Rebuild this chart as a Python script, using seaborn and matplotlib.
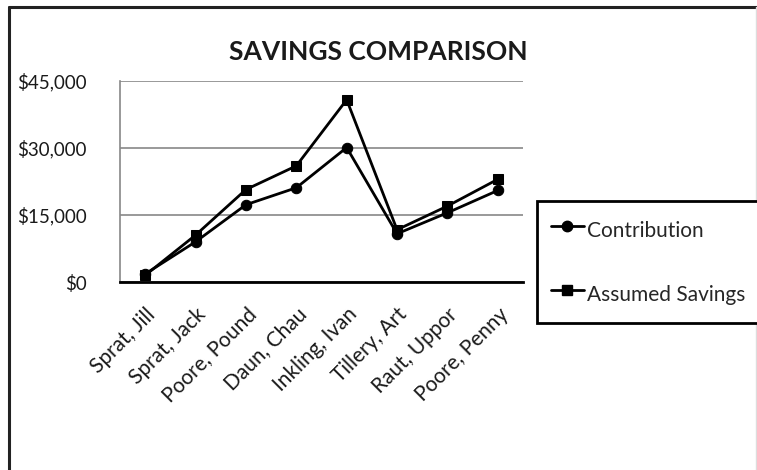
import numpy as np
import pandas as pd
import matplotlib
matplotlib.use("Agg")
import matplotlib.pyplot as plt
import seaborn as sns
from matplotlib.lines import Line2D
from matplotlib.ticker import FuncFormatter

# values
names = ["Sprat, Jill", "Sprat, Jack", "Poore, Pound", "Daun, Chau",
         "Inkling, Ivan", "Tillery, Art", "Raut, Uppor", "Poore, Penny"]
contribution = [1800, 9000, 17300, 21100, 30100, 10800, 15500, 20500]
assumed_savings = [1500, 10500, 20700, 26000, 40800, 11700, 17000, 23000]
series_names = ["Contribution", "Assumed Savings"]
y_ticks = [0, 15000, 30000, 45000]

sns.set_theme(style="white")
plt.rcParams["font.family"] = ["Lato", "DejaVu Sans"]

df = pd.DataFrame({
    "pos": np.tile(np.arange(len(names)), 2),
    "value": contribution + assumed_savings,
    "series": np.repeat(series_names, len(names)),
})

fig = plt.figure(figsize=(7.57, 4.70), dpi=100)
ax = fig.add_axes([120 / 757, 1 - 282 / 470, (523 - 120) / 757, (282 - 81) / 470])

sns.lineplot(data=df, x="pos", y="value", hue="series", style="series",
             palette=["black", "black"], markers={"Contribution": "o", "Assumed Savings": "s"},
             dashes=False, markersize=7.5, linewidth=2, ax=ax, legend=False,
             markeredgecolor="black")

ax.set_xlim(-0.5, len(names) - 0.5)
ax.set_ylim(0, 45000)
ax.set_yticks(y_ticks)
ax.yaxis.set_major_formatter(FuncFormatter(lambda v, p: "${:,.0f}".format(v)))
ax.set_xticks(np.arange(len(names) + 1) - 0.5)
ax.set_xticklabels([])
ax.set_xticks(np.arange(len(names)), minor=True)
ax.set_xticklabels(names, minor=True, rotation=45, ha="right", rotation_mode="anchor",
                   fontsize=15, color="#1a1a1a")
ax.tick_params(axis="x", which="major", direction="out", length=8, width=1.2, color="black")
ax.tick_params(axis="x", which="minor", length=0, pad=16)
ax.tick_params(axis="y", direction="out", length=5, width=1.2, color="#888888",
               labelsize=13.5, labelcolor="#1a1a1a", pad=19)
ax.set_xlabel("")
ax.set_ylabel("")
ax.grid(axis="y", color="#888888", linewidth=1.2)
for side in ["top", "right"]:
    ax.spines[side].set_visible(False)
ax.spines["left"].set_color("#888888")
ax.spines["left"].set_linewidth(1.2)
ax.spines["bottom"].set_color("black")
ax.spines["bottom"].set_linewidth(2)
ax.spines["bottom"].set_zorder(3)

fig.text(378 / 757, 1 - 52 / 470, "SAVINGS COMPARISON", ha="center", va="center",
         fontsize=19, fontweight="bold", color="#1a1a1a")

handles = [Line2D([], [], color="black", lw=2, marker="o", markersize=7.5),
           Line2D([], [], color="black", lw=2, marker="s", markersize=6.5)]
leg = fig.legend(handles, series_names, loc="center left",
                 bbox_to_anchor=(537 / 757, 1 - 262 / 470), fontsize=15,
                 frameon=True, fancybox=False, framealpha=1, edgecolor="black",
                 handlelength=1.6, handletextpad=0.15, labelspacing=1.6,
                 handleheight=1.9, borderpad=0.65, borderaxespad=0)
leg.get_frame().set_linewidth(2)

# outer chart-area frame
fig.add_artist(Line2D([9 / 757, 9 / 757], [0, 1 - 7 / 470], color="#222222", lw=2.2))
fig.add_artist(Line2D([9 / 757, 1], [1 - 7 / 470, 1 - 7 / 470], color="#222222", lw=2.2))
fig.add_artist(Line2D([755.5 / 757, 755.5 / 757], [0, 1 - 7 / 470], color="#dddddd", lw=1))

fig.savefig("out.png", dpi=100)
